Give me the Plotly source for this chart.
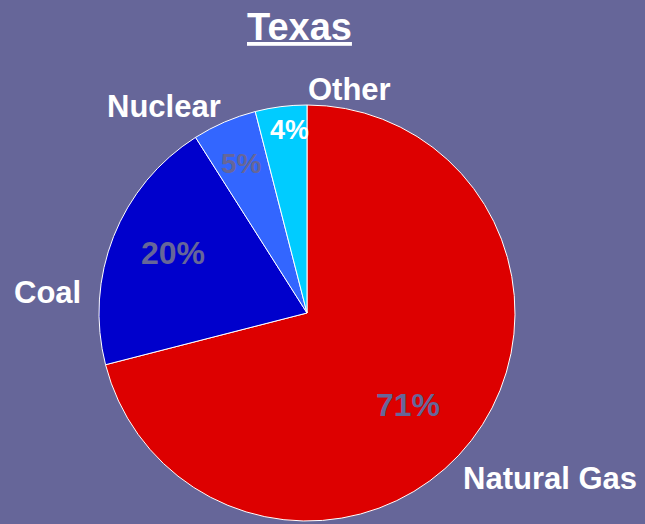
import plotly.graph_objects as go

# data
sources = ["Natural Gas", "Coal", "Nuclear", "Other"]
shares = [71, 20, 5, 4]
slice_colors = ["#DD0000", "#0000CC", "#3366FF", "#00CCFF"]
pct_colors = ["#666699", "#666699", "#666699", "#FFFFFF"]

W, H = 645, 524
BG = "#666699"
FONT = "Liberation Sans, Arial, sans-serif"

fig = go.Figure()

fig.add_trace(
    go.Pie(
        labels=sources,
        values=shares,
        sort=False,
        direction="clockwise",
        rotation=0,
        marker=dict(colors=slice_colors, line=dict(color="white", width=1)),
        textinfo="none",
        hoverinfo="label+percent",
        showlegend=False,
        domain=dict(x=[99 / W, 515 / W], y=[3 / H, 419 / H]),
    )
)


def px(x, y):
    return x / W, 1 - y / H


# label spots (pixels) for names and percentages
name_pos = [(550, 478), (47, 292), (164, 106), (349, 89)]
pct_pos = [(408, 405), (173, 253), (241, 163), (289, 130)]
pct_sizes = [32, 32, 28, 27]

annotations = []
for i, name in enumerate(sources):
    x, y = px(*name_pos[i])
    annotations.append(dict(
        x=x, y=y, xref="paper", yref="paper", showarrow=False,
        xanchor="center", yanchor="middle",
        text=f"<b>{name}</b>",
        font=dict(family=FONT, size=31, color="white"),
    ))
    x, y = px(*pct_pos[i])
    annotations.append(dict(
        x=x, y=y, xref="paper", yref="paper", showarrow=False,
        xanchor="center", yanchor="middle",
        text=f"<b>{shares[i]}%</b>",
        font=dict(family=FONT, size=pct_sizes[i], color=pct_colors[i]),
    ))

x, y = px(299, 27)
annotations.append(dict(
    x=x, y=y, xref="paper", yref="paper", showarrow=False,
    xanchor="center", yanchor="middle",
    text="<b><u>Texas</u></b>",
    font=dict(family=FONT, size=38, color="white"),
))

fig.update_layout(
    width=W,
    height=H,
    margin=dict(l=0, r=0, t=0, b=0),
    paper_bgcolor=BG,
    plot_bgcolor=BG,
    annotations=annotations,
)

# drop the page margin so the figure fills the window
fig.write_html(
    "out.html",
    config={"displayModeBar": False},
    post_script="document.body.style.margin='0';document.body.style.overflow='hidden';",
)
